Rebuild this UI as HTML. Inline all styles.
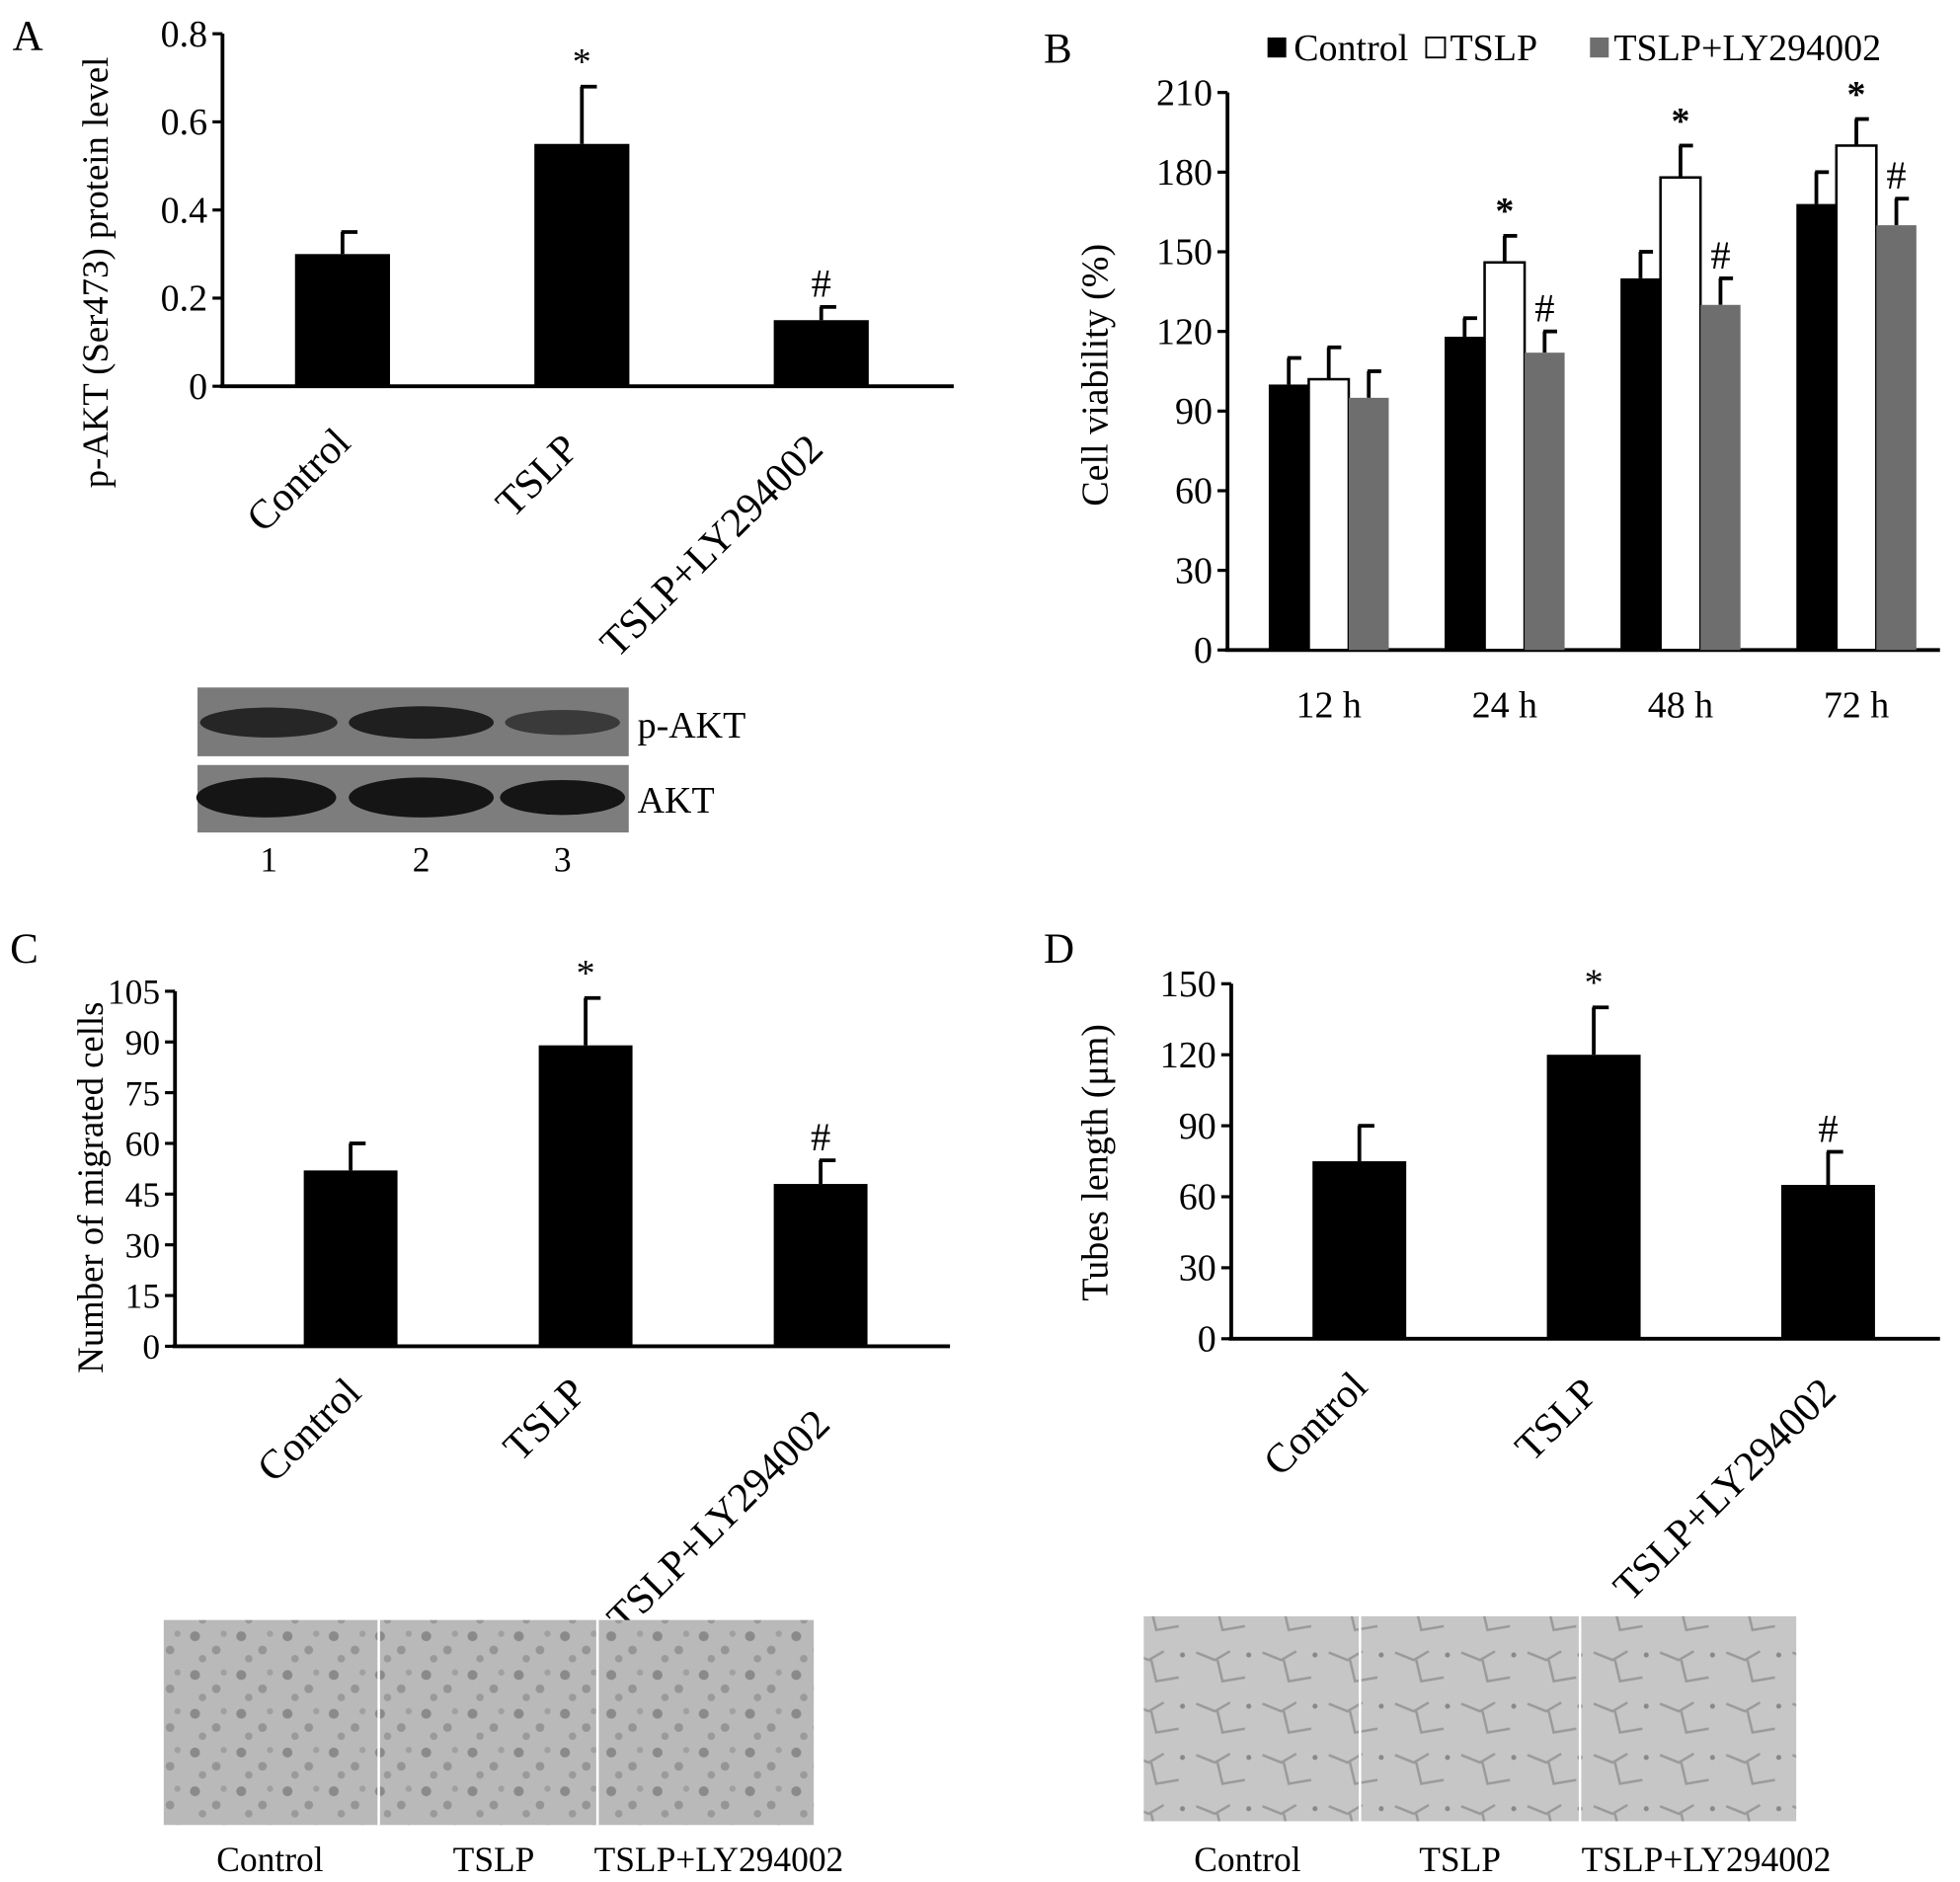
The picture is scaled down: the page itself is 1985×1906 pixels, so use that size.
<!DOCTYPE html>
<html><head><meta charset="utf-8"><style>
html,body{margin:0;padding:0;background:#fff;}
svg{display:block;font-family:"Liberation Serif",serif;}
</style></head><body>
<svg id="fig" width="1985" height="1906" viewBox="0 0 1568 1505.6" xmlns="http://www.w3.org/2000/svg">
<defs>
<pattern id="cells" width="37" height="31" patternUnits="userSpaceOnUse">
<rect width="37" height="31" fill="#b9b9b9"/>
<circle cx="8" cy="7" r="4" fill="#8a8a8a"/><circle cx="25" cy="18" r="3.5" fill="#959595"/>
<circle cx="14" cy="25" r="3" fill="#9a9a9a"/><circle cx="31" cy="5" r="2.5" fill="#a0a0a0"/>
</pattern>
<pattern id="tubes" width="53" height="41" patternUnits="userSpaceOnUse">
<rect width="53" height="41" fill="#c6c6c6"/>
<path d="M3 10 L18 16 L30 9 M20 16 L24 33 L42 30" stroke="#9a9a9a" stroke-width="2" fill="none"/>
<circle cx="45" cy="12" r="2" fill="#888"/>
</pattern>
</defs>
</svg>
<script>
// Panel A data
const catsA = ["Control","TSLP","TSLP+LY294002"];
const valsA = [0.30,0.55,0.15];
const errA = [0.05,0.13,0.03];
const ticksA = [0,0.2,0.4,0.6,0.8];
const tickLabA = ["0","0.2","0.4","0.6","0.8"];
const marksA = ["","*","#"];
// Panel B data
const catsB = ["12 h","24 h","48 h","72 h"];
const seriesNamesB = ["Control","TSLP","TSLP+LY294002"];
const ctrlB = [100,118,140,168];
const tslpB = [102,146,178,190];
const lyB = [95,112,130,160];
const ctrlErrB = [10,7,10,12];
const tslpErrB = [12,10,12,10];
const lyErrB = [10,8,10,10];
const tslpMarkB = ["","*","*","*"];
const lyMarkB = ["","#","#","#"];
const ticksB = [0,30,60,90,120,150,180,210];
// Panel C data
const catsC = ["Control","TSLP","TSLP+LY294002"];
const valsC = [52,89,48];
const errC = [8,14,7];
const ticksC = [0,15,30,45,60,75,90,105];
const marksC = ["","*","#"];
// Panel D data
const catsD = ["Control","TSLP","TSLP+LY294002"];
const valsD = [75,120,65];
const errD = [15,20,14];
const ticksD = [0,30,60,90,120,150];
const marksD = ["","*","#"];

const svg = document.getElementById('fig');
const NS = "http://www.w3.org/2000/svg";
function mk(tag, attrs, parent){
  const e = document.createElementNS(NS, tag);
  for (const k in attrs) e.setAttribute(k, attrs[k]);
  (parent||svg).appendChild(e);
  return e;
}
function txt(s, attrs, parent){
  const t = mk('text', attrs, parent);
  t.textContent = s;
  return t;
}

function panel(cfg){
  const g = mk('g', {});
  
  
  const y = v => cfg.y0 - v / cfg.max * (cfg.y0 - cfg.yTop);
  const ya = mk('line', {x1:cfg.ax, y1:cfg.yTop, x2:cfg.ax, y2:cfg.y0, stroke:'#000','stroke-width':3}, g);
  
  
  const xa = mk('line', {x1:cfg.ax-2, y1:cfg.y0, x2:cfg.xEnd, y2:cfg.y0, stroke:'#000','stroke-width':3}, g);
  
  
  cfg.ticks.forEach((t,i) => {
    mk('line', {x1:cfg.ax-8, y1:y(t), x2:cfg.ax, y2:y(t), stroke:'#000','stroke-width':2.5}, g);
    const lab = txt(cfg.tickLabels ? cfg.tickLabels[i] : String(t), {x:cfg.ax-12, y:y(t)+10, 'font-size':cfg.tickFont||30, 'text-anchor':'end'}, g);
    
    
  });
  const yt = txt(cfg.yTitle, {x:0, y:0, 'font-size':cfg.titleFont||30, 'text-anchor':'middle', transform:`translate(${cfg.yTitleX},${cfg.yTitleY}) rotate(-90)`}, g);
  
  
  const pl = txt(cfg.letter, {x:cfg.letterX, y:cfg.letterY, 'font-size':34}, g);
  
  
  return {g, y};
}

function simpleBars(cfg, cats, vals, errs, marks){
  const {g, y} = panel(cfg);
  cats.forEach((c,i) => {
    const x = cfg.firstBar + i*cfg.step;
    const eb = mk('line', {x1:x+cfg.bw/2, y1:y(vals[i]), x2:x+cfg.bw/2, y2:y(vals[i]+errs[i]), stroke:'#000','stroke-width':3}, g);
    
    
    mk('line', {x1:x+cfg.bw/2-1, y1:y(vals[i]+errs[i]), x2:x+cfg.bw/2+12, y2:y(vals[i]+errs[i]), stroke:'#000','stroke-width':3}, g);
    const b = mk('rect', {x:x, y:y(vals[i]), width:cfg.bw, height:cfg.y0-y(vals[i]), fill:'#000'}, g);
    
    
    if (marks[i]) {
      const m = txt(marks[i], {x:x+cfg.bw/2, y:y(vals[i]+errs[i]) - (marks[i]=='*'?10:8), 'font-size': marks[i]=='*'?30:32, 'text-anchor':'middle'}, g);
      
      
    }
    const lx = x + cfg.bw/2 + cfg.labDx[i];
    const l = txt(c, {x:0, y:0, 'font-size':33, 'text-anchor':'end', transform:`translate(${lx},${cfg.y0+cfg.labDy[i]}) rotate(-45)`}, g);
    
    
  });
}

// Panel A
simpleBars({name:'panel-a-chart', ax:178, yTop:27, y0:309, xEnd:763, max:0.8, ticks:ticksA, tickLabels:tickLabA,
  yTitle:'p-AKT (Ser473) protein level', titleFont:29, yTitleX:86, yTitleY:218, letter:'A', letterX:10, letterY:40,
  firstBar:236, step:191.5, bw:76, labDx:[8,-1,3], labDy:[47,52,52]}, catsA, valsA, errA, marksA);

// Western blot
const blot = mk('g', {});


mk('rect', {x:158, y:550, width:345, height:55, fill:'#7a7a7a'}, blot);
mk('rect', {x:158, y:612, width:345, height:54, fill:'#7d7d7d'}, blot);
[[215,55,12,'#262626'],[337,58,13,'#1f1f1f'],[450,46,10,'#3a3a3a']].forEach(b=>{
  mk('ellipse', {cx:b[0], cy:578, rx:b[1], ry:b[2], fill:b[3]}, blot);
});
[[213,56,16],[337,58,16],[450,50,14]].forEach(b=>{
  mk('ellipse', {cx:b[0], cy:638, rx:b[1], ry:b[2], fill:'#151515'}, blot);
});
const bl1 = txt('p-AKT', {x:510, y:590, 'font-size':30}, blot);


const bl2 = txt('AKT', {x:510, y:650, 'font-size':30}, blot);


['1','2','3'].forEach((s,i)=>{
  const t = txt(s, {x:[215,337,450][i], y:697, 'font-size':28, 'text-anchor':'middle'}, blot);
  
  
});

// Panel B
(function(){
  const cfg = {name:'panel-b-chart', ax:982, yTop:74, y0:520, xEnd:1552, max:210, ticks:ticksB,
    yTitle:'Cell viability (%)', yTitleX:886, yTitleY:300, letter:'B', letterX:835, letterY:50};
  const {g, y} = panel(cfg);
  const fills = ['#000','#fff','#6e6e6e'];
  const vals = [ctrlB, tslpB, lyB];
  const errs = [ctrlErrB, tslpErrB, lyErrB];
  const bw = 32, step = 140.7, first = 1015;
  catsB.forEach((c,i) => {
    const gx = first + i*step;
    for (let s=0; s<3; s++){
      const x = gx + s*bw;
      const v = vals[s][i], e = errs[s][i];
      mk('line', {x1:x+bw/2, y1:y(v), x2:x+bw/2, y2:y(v+e), stroke:'#000','stroke-width':3}, g);
      mk('line', {x1:x+bw/2-1, y1:y(v+e), x2:x+bw/2+10, y2:y(v+e), stroke:'#000','stroke-width':3}, g);
      const b = mk('rect', {x:x, y:y(v), width:bw, height:cfg.y0-y(v), fill:fills[s], stroke:'#000', 'stroke-width': s==1?2:0}, g);
      
      
    }
    if (tslpMarkB[i]) {
      const m = txt(tslpMarkB[i], {x:gx+bw*1.5, y:y(tslpB[i]+tslpErrB[i])-10, 'font-size':30, 'text-anchor':'middle', 'font-weight':'bold'}, g);
      
      
    }
    if (lyMarkB[i]) {
      const m = txt(lyMarkB[i], {x:gx+bw*2.5, y:y(lyB[i]+lyErrB[i])-8, 'font-size':32, 'text-anchor':'middle'}, g);
      
      
    }
    const l = txt(c, {x:gx+bw*1.5, y:574, 'font-size':30, 'text-anchor':'middle'}, g);
    
    
  });
  const lg = mk('g', {}, g);
  
  
  const lx = [1014, 1141, 1272], tx = [1035, 1160, 1291];
  seriesNamesB.forEach((n,s) => {
    const sw = mk('rect', {x:lx[s], y:30, width:15, height:16, fill:fills[s], stroke:'#000', 'stroke-width': s==1?1.5:0}, lg);
    
    
    const t = txt(n, {x:tx[s], y:48, 'font-size':30}, lg);
    
    
  });
})();

// Panel C
simpleBars({name:'panel-c-chart', ax:140, yTop:793, y0:1077, xEnd:760, max:105, ticks:ticksC, tickFont:28,
  yTitle:'Number of migrated cells', titleFont:29, yTitleX:82, yTitleY:950, letter:'C', letterX:8, letterY:770,
  firstBar:243, step:188, bw:75, labDx:[10,2,9], labDy:[39,39,64]}, catsC, valsC, errC, marksC);

// Panel D
simpleBars({name:'panel-d-chart', ax:985, yTop:787, y0:1071, xEnd:1552, max:150, ticks:ticksD,
  yTitle:'Tubes length (μm)', yTitleX:886, yTitleY:930, letter:'D', letterX:835, letterY:770,
  firstBar:1050, step:187.5, bw:75, labDx:[8,5,8], labDy:[40,45,45]}, catsD, valsD, errD, marksD);

// Micrographs
function micro(name, x0, y0, w, h, seps, pat, labels, labX){
  const g = mk('g', {});
  
  
  mk('rect', {x:x0, y:y0, width:w, height:h, fill:`url(#${pat})`}, g);
  seps.forEach(s => mk('line', {x1:s, y1:y0, x2:s, y2:y0+h, stroke:'#fff', 'stroke-width':2}, g));
  labels.forEach((l,i) => {
    const t = txt(l, {x:labX[i], y:1497, 'font-size':28, 'text-anchor':'middle'}, g);
    
    
  });
}
micro('migration-images', 131, 1296, 520, 164, [303, 478], 'cells', catsC, [216, 395, 575]);
micro('tube-images', 915, 1293, 522, 164, [1088, 1264], 'tubes', catsD, [998, 1168, 1365]);
</script>
</body></html>
